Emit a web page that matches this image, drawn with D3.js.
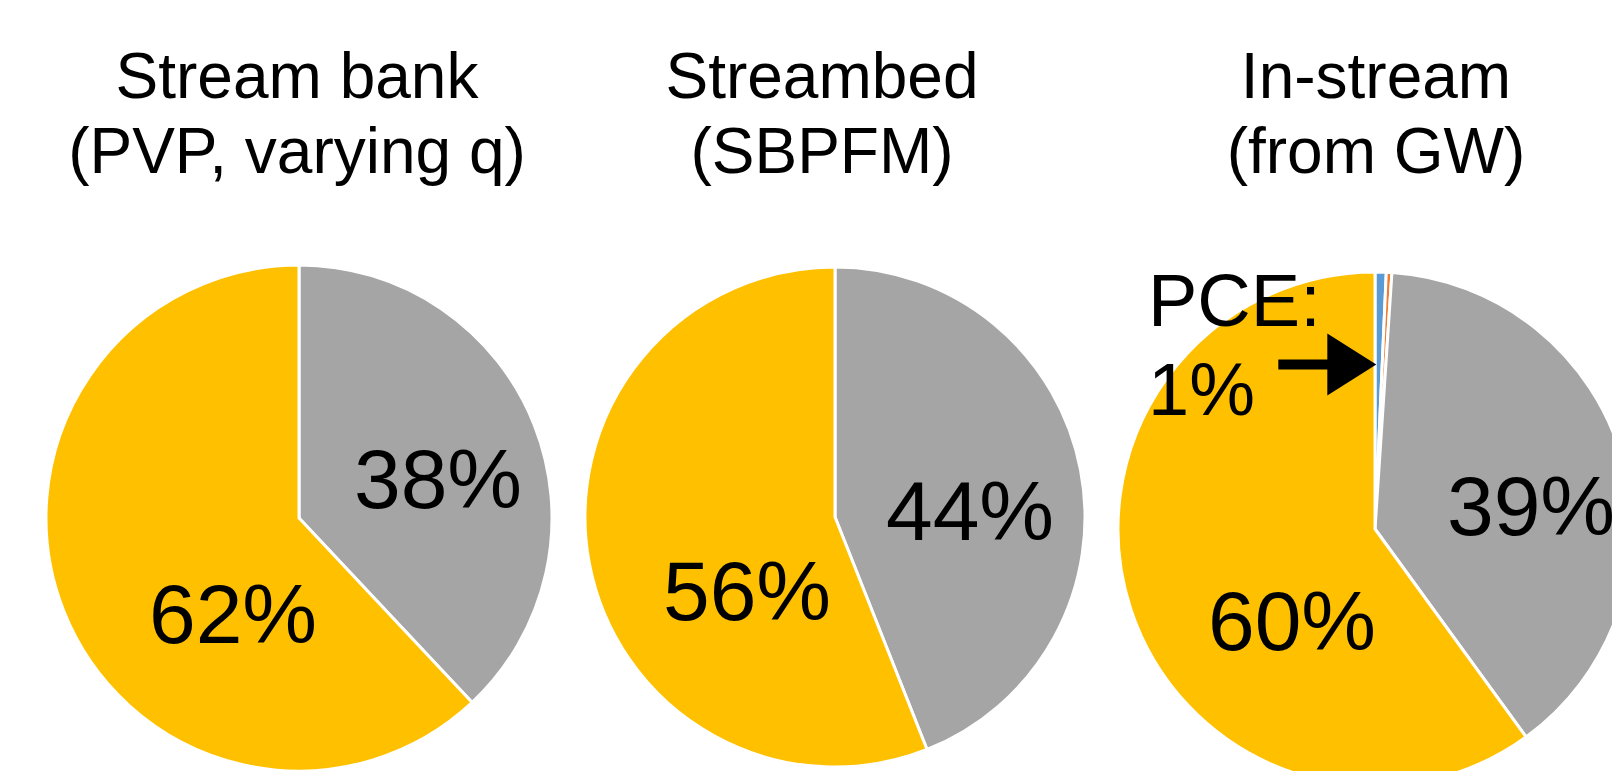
<!DOCTYPE html>
<html>
<head>
<meta charset="utf-8">
<script src="https://cdn.jsdelivr.net/npm/d3@7"></script>
<style>
  html, body { margin: 0; padding: 0; background: #fff; }
  svg { display: block; }
  text { font-family: "Liberation Sans", Arial, Helvetica, sans-serif; fill: #000; }
</style>
</head>
<body>
<svg id="chart" width="1612" height="771"></svg>
<script>
// Slice categories, drawn clockwise from 12 o'clock
const categories = ["PCE", "TCE", "Grey fraction", "Yellow fraction"];
const sliceColors = ["#5B9BD5", "#ED7D31", "#A5A5A5", "#FFC000"];

// Panel titles (two lines each)
const titles = [
  ["Stream bank", "(PVP, varying q)"],
  ["Streambed", "(SBPFM)"],
  ["In-stream", "(from GW)"]
];

// Percent share of each category, one array per panel
const streamBank = [0, 0, 38, 62];
const streambed  = [0, 0, 44, 56];
const inStream   = [0.7, 0.35, 38.95, 60.0];
const panelValues = [streamBank, streambed, inStream];

// Layout: pie centres and radii
const panels = [
  { cx: 299,  cy: 518, r: 253, titleX: 297 },
  { cx: 835,  cy: 517, r: 250, titleX: 822 },
  { cx: 1375, cy: 529, r: 257, titleX: 1376 }
];
// Data-label anchor offsets from the pie centre (text baseline), per category
const labelOffsets = [
  { 2: [139, -10], 3: [-66, 125] },
  { 2: [135, 23],  3: [-88, 103] },
  { 2: [156, 6],   3: [-83, 121] }
];

const svg = d3.select("#chart");
const color = d3.scaleOrdinal().domain(categories).range(sliceColors);
const pie = d3.pie().sort(null).value(d => d.value);
const fmt = v => Math.round(v) + "%";

panels.forEach((p, i) => {
  const data = categories.map((c, k) => ({ cat: c, value: panelValues[i][k], k }));
  const arcs = pie(data);
  const arc = d3.arc().innerRadius(0).outerRadius(p.r);

  // Title
  const t = svg.append("text")
    .attr("text-anchor", "middle")
    .style("font-size", "64px");
  titles[i].forEach((line, j) => {
    t.append("tspan").attr("x", p.titleX).attr("y", 98 + j * 75).text(line);
  });

  const g = svg.append("g").attr("transform", `translate(${p.cx},${p.cy})`);

  g.selectAll("path")
    .data(arcs.filter(a => a.data.value > 0))
    .join("path")
    .attr("d", arc)
    .attr("fill", a => color(a.data.cat))
    .attr("stroke", "#fff")
    .attr("stroke-width", 3)
    .attr("stroke-linejoin", "round");

  // Percentage labels inside the two large slices
  g.selectAll("text.lbl")
    .data(arcs.filter(a => labelOffsets[i][a.data.k]))
    .join("text")
    .attr("class", "lbl")
    .attr("text-anchor", "middle")
    .attr("x", a => labelOffsets[i][a.data.k][0])
    .attr("y", a => labelOffsets[i][a.data.k][1])
    .style("font-size", "84px")
    .text(a => fmt(a.data.value));

  // Callout for the thin PCE slice
  if (i === 2) {
    const pce = arcs[0];
    const tipR = p.r * 0.64;
    const a0 = pce.startAngle + 0.008;
    const tip = [tipR * Math.sin(a0), -tipR * Math.cos(a0)];
    const headLen = 49, headHalf = 31, shaftLen = 49, shaftHalf = 5;
    const bx = tip[0] - headLen;
    g.append("path")
      .attr("d", [
        "M", tip[0], tip[1],
        "L", bx, tip[1] - headHalf,
        "L", bx, tip[1] - shaftHalf,
        "L", bx - shaftLen, tip[1] - shaftHalf,
        "L", bx - shaftLen, tip[1] + shaftHalf,
        "L", bx, tip[1] + shaftHalf,
        "L", bx, tip[1] + headHalf, "Z"
      ].join(" "))
      .attr("fill", "#000");

    const lt = g.append("text").style("font-size", "74px");
    lt.append("tspan").attr("x", -227).attr("y", -203).text(pce.data.cat + ":");
    lt.append("tspan").attr("x", -227).attr("y", -114).text(fmt(pce.data.value));
  }
});
</script>
</body>
</html>
